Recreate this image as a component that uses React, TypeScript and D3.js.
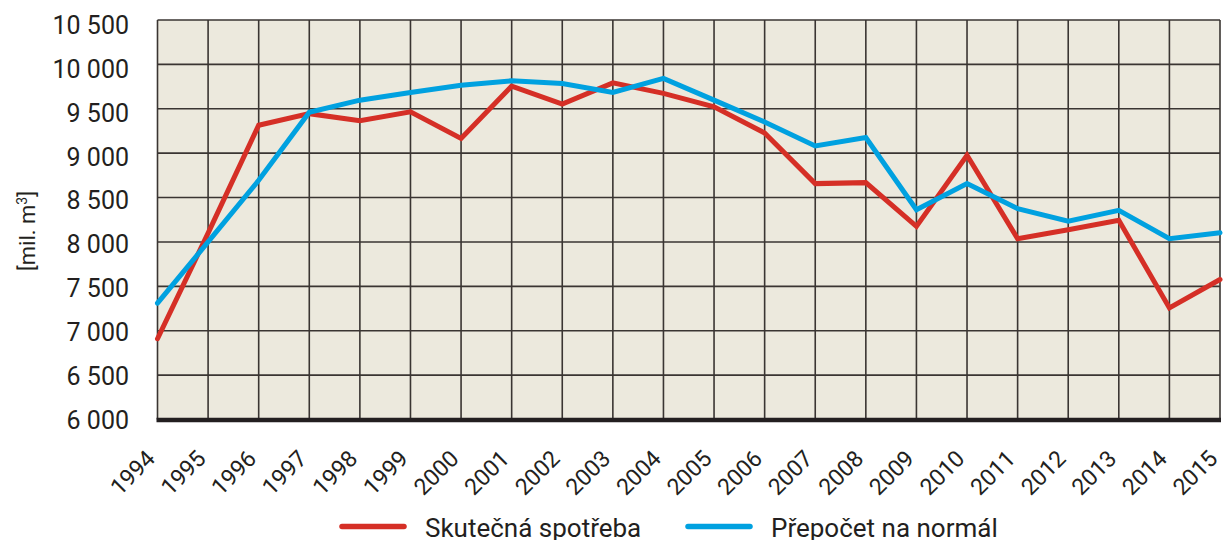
import React from "react";
import * as d3 from "d3";

const years: number[] = d3.range(1994, 2016);
const skutecna: number[] = [6910, 8100, 9315, 9445, 9365, 9465, 9165, 9755, 9552, 9792, 9673, 9522, 9228, 8657, 8668, 8175, 8976, 8036, 8138, 8243, 7257, 7577];
const prepocet: number[] = [7310, 8000, 8694, 9460, 9597, 9684, 9766, 9815, 9785, 9684, 9842, 9597, 9352, 9081, 9176, 8363, 8657, 8375, 8235, 8356, 8036, 8104];
const yTicks: number[] = d3.range(6000, 10501, 500);
const seriesNames: string[] = ["Skutečná spotřeba", "Přepočet na normál"];
const seriesColors: string[] = ["#d52f26", "#00a1e0"];
const yTitle = "[mil. m";

const W = 1223;
const H = 540;
const FONT = "Roboto, 'DejaVu Sans', sans-serif";
const TEXT = "#231f20";

const fmt = (v: number) => {
  const s = String(v);
  return s.length > 3 ? s.slice(0, s.length - 3) + " " + s.slice(s.length - 3) : s;
};

export default function App() {
  const x = d3.scaleLinear().domain([1994, 2015]).range([157.5, 1220]);
  const y = d3.scaleLinear().domain([6000, 10500]).range([419.5, 20]);
  const labelOff = d3.scaleLinear().domain([6000, 10500]).range([9, 14]);
  const line = d3
    .line<number>()
    .x((_, i) => x(years[i]))
    .y((d) => y(d));
  const series = [skutecna, prepocet];

  return (
    <svg
      width={W}
      height={H}
      style={{ position: "absolute", left: 0, top: 0, display: "block", background: "#fff" }}
      fontFamily={FONT}
    >
      <rect x={x(1994)} y={y(10500)} width={x(2015) - x(1994)} height={y(6000) - y(10500)} fill="#ece9dd" />
      {yTicks.map((t) => (
        <line key={"h" + t} x1={x(1994)} x2={x(2015)} y1={y(t)} y2={y(t)} stroke="#3a3532" strokeWidth={1.6} />
      ))}
      {years.map((yr) => (
        <line key={"v" + yr} x1={x(yr)} x2={x(yr)} y1={y(10500)} y2={y(6000)} stroke="#3a3532" strokeWidth={1.6} />
      ))}
      <line x1={x(1994) - 1} x2={x(2015) + 1} y1={y(6000) + 0.5} y2={y(6000) + 0.5} stroke="#231f20" strokeWidth={4.6} />
      {series.map((s, i) => (
        <path key={"s" + i} d={line(s) || ""} fill="none" stroke={seriesColors[i]} strokeWidth={5} strokeLinejoin="miter" strokeLinecap="round" />
      ))}
      {yTicks.map((t) => (
        <text key={"yl" + t} x={129} y={y(t) + labelOff(t)} textAnchor="end" fontSize={25} fill={TEXT}>
          {fmt(t)}
        </text>
      ))}
      {years.map((yr) => (
        <text
          key={"xl" + yr}
          transform={`translate(${x(yr) - 1},${460}) rotate(-45)`}
          textAnchor="end"
          fontSize={23}
          fill={TEXT}
        >
          {yr}
        </text>
      ))}
      <text transform={`translate(35,231) rotate(-90)`} textAnchor="middle" fontSize={22} fill={TEXT}>
        {yTitle}
        <tspan dy={-8} fontSize={14}>3</tspan>
        <tspan dy={8}>]</tspan>
      </text>
      {seriesNames.map((n, i) => {
        const lx = i === 0 ? 340 : 686;
        return (
          <g key={"lg" + i}>
            <line x1={lx + 2} x2={lx + 64} y1={526.5} y2={526.5} stroke={seriesColors[i]} strokeWidth={5.5} strokeLinecap="round" />
            <text x={lx + 85} y={537} fontSize={26} fill={TEXT}>
              {n}
            </text>
          </g>
        );
      })}
    </svg>
  );
}
